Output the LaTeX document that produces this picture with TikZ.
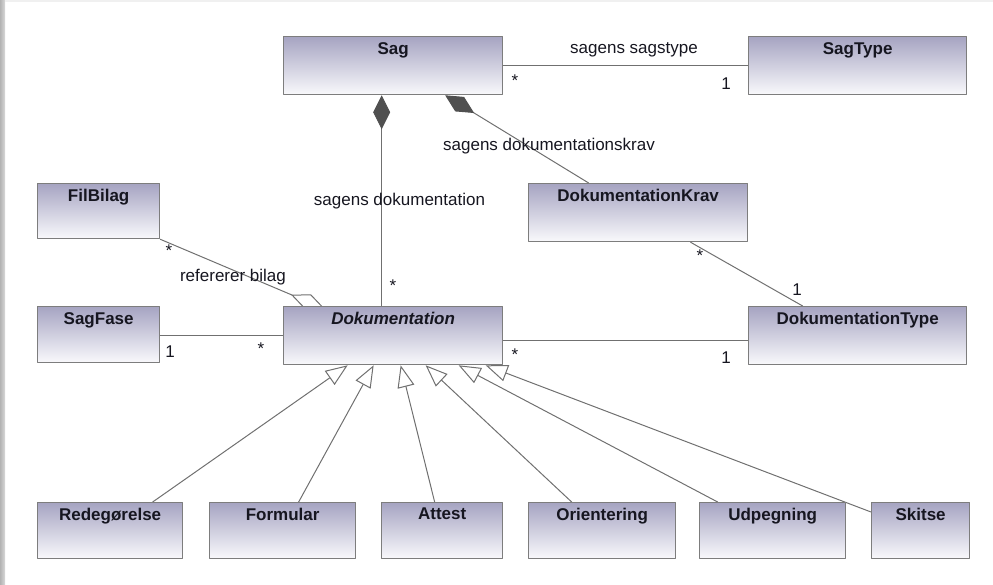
\documentclass[tikz,border=0pt]{standalone}
\usepackage{fontspec}
\setmainfont{Liberation Sans}
\usetikzlibrary{arrows.meta,positioning,backgrounds}
\definecolor{boxtop}{RGB}{166,164,194}
\definecolor{boxbot}{RGB}{249,249,252}
\definecolor{boxline}{RGB}{125,125,125}
\definecolor{linegray}{RGB}{112,112,112}
\definecolor{dgray}{RGB}{80,80,80}
\definecolor{txt}{RGB}{22,22,32}
\tikzstyle{every node}=[font=\fontsize{17}{20}\selectfont,text=txt]
\tikzstyle{every path}=[line cap=round,line join=round]
\tikzstyle{cls}=[draw=boxline,line width=1.3pt,top color=boxtop,bottom color=boxbot,
  anchor=north west,minimum height=58pt,inner sep=0pt]
\tikzstyle{title}=[font=\fontsize{17}{20}\selectfont\bfseries,anchor=north,inner sep=0pt,yshift=-6pt]
\tikzstyle{assoc}=[draw=linegray,line width=1pt]
\tikzstyle{gen}=[assoc,-{Triangle[open,length=22pt,width=17pt,fill=white]}]
\tikzstyle{comp}=[assoc,{Diamond[length=34pt,width=17pt,fill=dgray,color=dgray]}-]

\begin{document}
\begin{tikzpicture}[x=1pt,y=-1pt]
\useasboundingbox (0,0) rectangle (993,585);
% window edge
\fill[left color=gray!60,right color=gray!30] (0,0) rectangle (5,585);
\fill[gray!12] (5,0) rectangle (993,2);

% classes
\node[cls,minimum width=219pt,label={[title]north:Sag}] (sag) at (283,36) {};
\node[cls,minimum width=218pt,label={[title]north:SagType}] (sagtype) at (748,36) {};
\node[cls,minimum width=122pt,minimum height=55pt,label={[title]north:FilBilag}] (filbilag) at (37,183) {};
\node[cls,minimum width=219pt,label={[title]north:DokumentationKrav}] (dokkrav) at (528,183) {};
\node[cls,minimum width=122pt,minimum height=56pt,label={[title]north:SagFase}] (sagfase) at (37,306) {};
\node[cls,minimum width=219pt,label={[title,font=\fontsize{17}{20}\selectfont\bfseries\itshape]north:Dokumentation}] (dok) at (283,306) {};
\node[cls,minimum width=218pt,label={[title]north:DokumentationType}] (doktype) at (748,306) {};
\node[cls,minimum width=145pt,minimum height=56pt,label={[title]north:Redegørelse}] (redeg) at (37,502) {};
\node[cls,minimum width=146pt,minimum height=56pt,label={[title]north:Formular}] (formular) at (209,502) {};
\node[cls,minimum width=121pt,minimum height=56pt,label={[title]north:Attest}] (attest) at (381,502) {};
\node[cls,minimum width=147pt,minimum height=56pt,label={[title]north:Orientering}] (orient) at (528,502) {};
\node[cls,minimum width=146pt,minimum height=56pt,label={[title]north:Udpegning}] (udpeg) at (699,502) {};
\node[cls,minimum width=98pt,minimum height=56pt,label={[title]north:Skitse}] (skitse) at (871,502) {};

% connectors
\begin{scope}[on background layer]
\draw[assoc] (sag) -- (sagtype);
\draw[comp] ([xshift=-11.5pt]sag.south) -- ([xshift=-11.5pt]dok.north);
\draw[comp] ([xshift=52pt]sag.south) -- ([xshift=-49.5pt]dokkrav.north);
\draw[assoc] ([xshift=52.5pt]dokkrav.south) -- ([xshift=-55pt]doktype.north);
\draw[assoc] ([yshift=-5pt]dok.east) -- ([yshift=-5pt]doktype.west);
\draw[assoc] ([yshift=-1pt]sagfase.east) -- ([yshift=-1pt]sagfase.east -| dok.west);
\draw[assoc,-{Diamond[open,length=37pt,width=16pt]}] (filbilag.south east)
  -- ([xshift=42pt,yshift=-3pt]dok.north west);
\draw[gen] ([xshift=42.5pt]redeg.north) -- ([xshift=-45.5pt]dok.south);
\draw[gen] ([xshift=16pt]formular.north) -- ([xshift=-19.5pt]dok.south);
\draw[gen] ([xshift=-7.5pt]attest.north) -- ([xshift=7.5pt]dok.south);
\draw[gen] ([xshift=-30.5pt]orient.north) -- ([xshift=32.5pt]dok.south);
\draw[gen] ([xshift=-55pt]udpeg.north) -- ([xshift=65.5pt]dok.south);
\draw[gen] ([yshift=-10pt]skitse.north west) -- ([xshift=92.5pt]dok.south);
\end{scope}

% association names
\node (nsagstype) at (634,49.5) {sagens sagstype};
\node (ndok) at (399.5,201) {sagens dokumentation};
\node (nkrav) at (549,146) {sagens dokumentationskrav};
\node (nbilag) at (233,277) {refererer bilag};

% multiplicities
\node (m1) at (515,81) {*};
\node (m2) at (726,83.5) {1};
\node (m3) at (393,286) {*};
\node (m4) at (700,256) {*};
\node (m5) at (797,289.5) {1};
\node (m6) at (515,355) {*};
\node (m7) at (726,357.5) {1};
\node (m8) at (170,352) {1};
\node (m9) at (261,349) {*};
\node (m10) at (169,251) {*};
\end{tikzpicture}
\end{document}
